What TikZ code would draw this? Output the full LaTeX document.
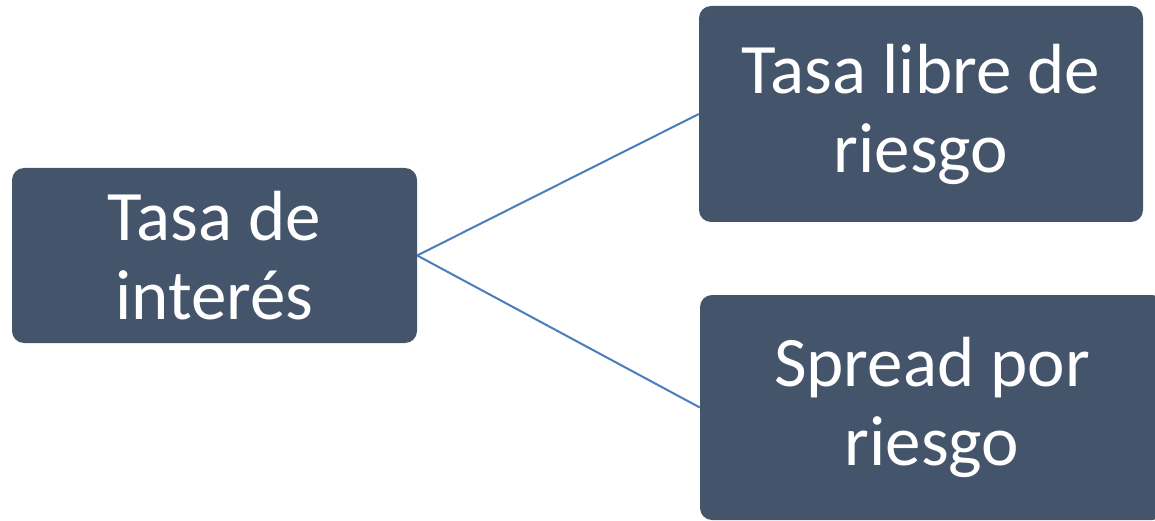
\documentclass[tikz,border=0pt]{standalone}
\usepackage{fontspec}
\setmainfont{Carlito}
\definecolor{boxfill}{HTML}{44546A}
\definecolor{linkcol}{HTML}{4A7EBB}
\begin{document}
\begin{tikzpicture}[x=1pt,y=-1pt,
  box/.style={fill=boxfill, rounded corners=12pt, inner sep=0pt, text=white,
    align=center, font=\fontsize{71}{79}\selectfont},
  link/.style={draw=linkcol, line width=2pt}]
\useasboundingbox (0,0) rectangle (1155,521);
\clip (0,0) rectangle (1155,521);
\node[box, minimum width=405pt, minimum height=175pt] (a) at (214.5,255.5) {Tasa de\\interés};
\node[box, minimum width=444pt, minimum height=216pt] (b) at (921,114) {Tasa libre de\\riesgo};
\node[box, minimum width=464pt, minimum height=225pt] (c) at (932,407.5) {Spread por\\riesgo};
\draw[link] (a.east) -- (b.west);
\draw[link] (a.east) -- (c.west);
\end{tikzpicture}
\end{document}
